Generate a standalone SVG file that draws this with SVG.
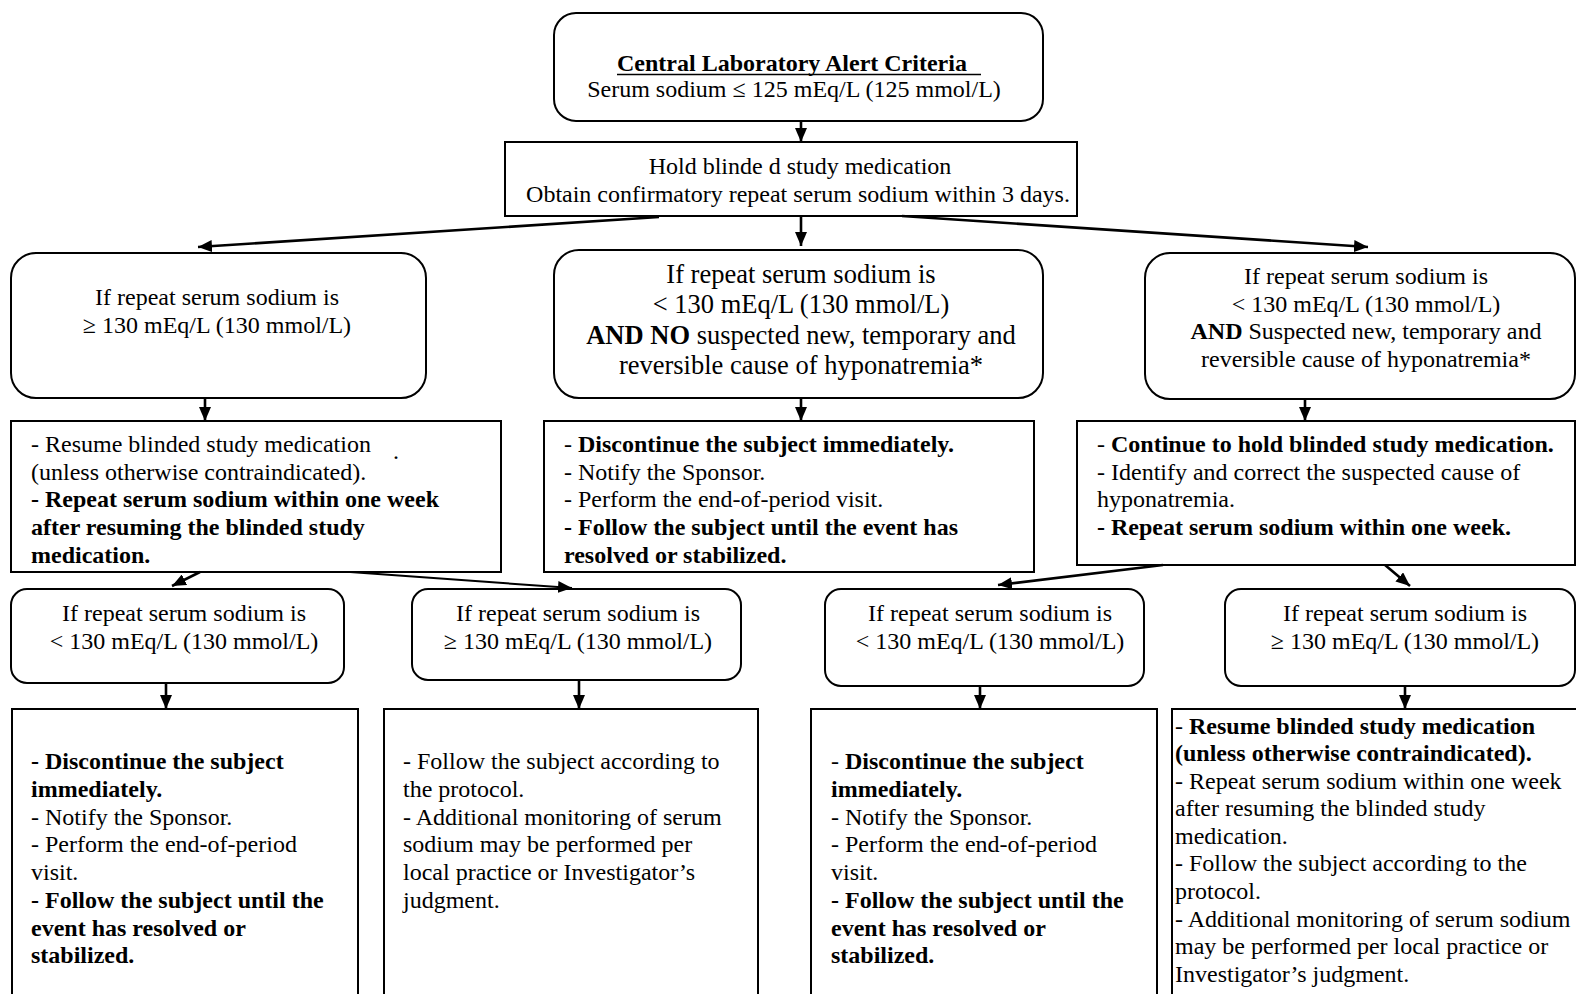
<svg xmlns="http://www.w3.org/2000/svg" width="1576" height="994" viewBox="0 0 1576 994">
<defs>
<style>
.t{font-family:"Liberation Serif","Times New Roman",serif;font-size:24px;fill:#000}
.m{text-anchor:middle}
.b{font-weight:bold}
.big{font-size:26.5px}
.box{fill:#fff;stroke:#000;stroke-width:2}
.con line{stroke:#000;stroke-width:2.6;fill:none}
</style>
<marker id="ah" markerUnits="userSpaceOnUse" markerWidth="14" markerHeight="12" refX="14" refY="6" orient="auto">
<path d="M0,0 L14,6 L0,12 z" fill="#000"/>
</marker>
</defs>
<rect width="1576" height="994" fill="#fff"/>

<g id="n-alert">
<rect class="box" x="554" y="13" width="489" height="108" rx="22"/>
<text class="t b" x="617" y="71">Central Laboratory Alert Criteria</text>
<line x1="617" y1="74.5" x2="981" y2="74.5" stroke="#000" stroke-width="1.5"/>
<text class="t m" x="794" y="97">Serum sodium  ≤ 125 mEq/L (125 mmol/L)</text>
</g>

<g id="n-hold">
<rect class="box" x="505" y="142" width="572" height="74"/>
<text class="t m" x="800" y="174">Hold blinde d study medication</text>
<text class="t m" x="798" y="202">Obtain confirmatory repeat serum sodium within 3 days.</text>
</g>

<g id="n-ge130">
<rect class="box" x="11" y="253" width="415" height="145" rx="25"/>
<text class="t m" x="217" y="305">If repeat serum sodium is</text>
<text class="t m" x="217" y="333">≥ 130 mEq/L (130 mmol/L)</text>
</g>

<g id="n-lt130-no">
<rect class="box" x="554" y="250" width="489" height="148" rx="25"/>
<text class="t m big" x="801" y="283">If repeat serum sodium is</text>
<text class="t m big" x="801" y="313">&lt; 130 mEq/L (130 mmol/L)</text>
<text class="t m big" x="801" y="344"><tspan class="b">AND NO</tspan> suspected new, temporary and</text>
<text class="t m big" x="801" y="374">reversible cause of hyponatremia*</text>
</g>

<g id="n-lt130-yes">
<rect class="box" x="1145" y="253" width="430" height="146" rx="25"/>
<text class="t m" x="1366" y="284">If repeat serum sodium is</text>
<text class="t m" x="1366" y="312">&lt; 130 mEq/L (130 mmol/L)</text>
<text class="t m" x="1366" y="339"><tspan class="b">AND</tspan> Suspected new, temporary and</text>
<text class="t m" x="1366" y="367">reversible cause of hyponatremia*</text>
</g>

<g id="n-resume">
<rect class="box" x="11" y="421" width="490" height="151"/>
<text class="t" x="31" y="452">- Resume blinded study medication</text>
<text class="t" x="393" y="459">.</text>
<text class="t" x="31" y="480">(unless otherwise contraindicated).</text>
<text class="t b" x="31" y="507">- Repeat serum sodium within one week</text>
<text class="t b" x="31" y="535">after resuming the blinded study</text>
<text class="t b" x="31" y="563">medication.</text>
</g>

<g id="n-discontinue1">
<rect class="box" x="544" y="421" width="490" height="151"/>
<text class="t" x="564" y="452">- <tspan class="b">Discontinue the subject immediately.</tspan></text>
<text class="t" x="564" y="480">- Notify the Sponsor.</text>
<text class="t" x="564" y="507">- Perform the end-of-period visit.</text>
<text class="t b" x="564" y="535">- Follow the subject until the event has</text>
<text class="t b" x="564" y="563">resolved or stabilized.</text>
</g>

<g id="n-continue-hold">
<rect class="box" x="1077" y="421" width="498" height="144"/>
<text class="t" x="1097" y="452">- <tspan class="b">Continue to hold blinded study medication.</tspan></text>
<text class="t" x="1097" y="480">- Identify and correct the suspected cause of</text>
<text class="t" x="1097" y="507">hyponatremia.</text>
<text class="t b" x="1097" y="535">- Repeat serum sodium within one week.</text>
</g>

<g id="n-r4a">
<rect class="box" x="11" y="589" width="333" height="94" rx="16"/>
<text class="t m" x="184" y="621">If repeat serum sodium is</text>
<text class="t m" x="184" y="649">&lt; 130 mEq/L (130 mmol/L)</text>
</g>
<g id="n-r4b">
<rect class="box" x="412" y="589" width="329" height="91" rx="16"/>
<text class="t m" x="578" y="621">If repeat serum sodium is</text>
<text class="t m" x="578" y="649">≥ 130 mEq/L (130 mmol/L)</text>
</g>
<g id="n-r4c">
<rect class="box" x="825" y="589" width="319" height="97" rx="16"/>
<text class="t m" x="990" y="621">If repeat serum sodium is</text>
<text class="t m" x="990" y="649">&lt; 130 mEq/L (130 mmol/L)</text>
</g>
<g id="n-r4d">
<rect class="box" x="1225" y="589" width="350" height="97" rx="16"/>
<text class="t m" x="1405" y="621">If repeat serum sodium is</text>
<text class="t m" x="1405" y="649">≥ 130 mEq/L (130 mmol/L)</text>
</g>

<g id="n-r5a">
<rect class="box" x="12" y="709" width="346" height="300"/>
<text class="t b" x="31" y="769">- Discontinue the subject</text>
<text class="t b" x="31" y="797">immediately.</text>
<text class="t" x="31" y="825">- Notify the Sponsor.</text>
<text class="t" x="31" y="852">- Perform the end-of-period</text>
<text class="t" x="31" y="880">visit.</text>
<text class="t b" x="31" y="908">- Follow the subject until the</text>
<text class="t b" x="31" y="936">event has resolved or</text>
<text class="t b" x="31" y="963">stabilized.</text>
</g>

<g id="n-r5b">
<rect class="box" x="384" y="709" width="374" height="300"/>
<text class="t" x="403" y="769">- Follow the subject according to</text>
<text class="t" x="403" y="797">the protocol.</text>
<text class="t" x="403" y="825">- Additional monitoring of serum</text>
<text class="t" x="403" y="852">sodium may be performed per</text>
<text class="t" x="403" y="880">local practice or Investigator’s</text>
<text class="t" x="403" y="908">judgment.</text>
</g>

<g id="n-r5c">
<rect class="box" x="811" y="709" width="346" height="300"/>
<text class="t" x="831" y="769">- <tspan class="b">Discontinue the subject</tspan></text>
<text class="t b" x="831" y="797">immediately.</text>
<text class="t" x="831" y="825">- Notify the Sponsor.</text>
<text class="t" x="831" y="852">- Perform the end-of-period</text>
<text class="t" x="831" y="880">visit.</text>
<text class="t b" x="831" y="908">- Follow the subject until the</text>
<text class="t b" x="831" y="936">event has resolved or</text>
<text class="t b" x="831" y="963">stabilized.</text>
</g>

<g id="n-r5d">
<rect class="box" x="1172" y="709" width="420" height="300"/>
<text class="t" x="1175" y="734">- <tspan class="b">Resume blinded study medication</tspan></text>
<text class="t b" x="1175" y="761">(unless otherwise contraindicated).</text>
<text class="t" x="1175" y="789">- Repeat serum sodium within one week</text>
<text class="t" x="1175" y="816">after resuming the blinded study</text>
<text class="t" x="1175" y="844">medication.</text>
<text class="t" x="1175" y="871">- Follow the subject according to the</text>
<text class="t" x="1175" y="899">protocol.</text>
<text class="t" x="1175" y="927">- Additional monitoring of serum sodium</text>
<text class="t" x="1175" y="954">may be performed per local practice or</text>
<text class="t" x="1175" y="982">Investigator’s judgment.</text>
</g>

<g id="connectors" class="con">
<line x1="801" y1="121" x2="801" y2="142" marker-end="url(#ah)"/>
<line x1="659" y1="217" x2="198" y2="247" marker-end="url(#ah)"/>
<line x1="801" y1="216" x2="801" y2="246" marker-end="url(#ah)"/>
<line x1="902" y1="216" x2="1368" y2="247" marker-end="url(#ah)"/>
<line x1="205" y1="398" x2="205" y2="421" marker-end="url(#ah)"/>
<line x1="801" y1="398" x2="801" y2="421" marker-end="url(#ah)"/>
<line x1="1305" y1="399" x2="1305" y2="421" marker-end="url(#ah)"/>
<line x1="200" y1="572" x2="172" y2="586" marker-end="url(#ah)"/>
<line x1="350" y1="572" x2="572" y2="588" marker-end="url(#ah)" style="stroke-width:2"/>
<line x1="1163" y1="565" x2="998" y2="585" marker-end="url(#ah)"/>
<line x1="1385" y1="565" x2="1410" y2="586" marker-end="url(#ah)"/>
<line x1="166" y1="683" x2="166" y2="709" marker-end="url(#ah)"/>
<line x1="579" y1="680" x2="579" y2="709" marker-end="url(#ah)"/>
<line x1="980" y1="686" x2="980" y2="709" marker-end="url(#ah)"/>
<line x1="1405" y1="686" x2="1405" y2="709" marker-end="url(#ah)"/>
</g>
</svg>
